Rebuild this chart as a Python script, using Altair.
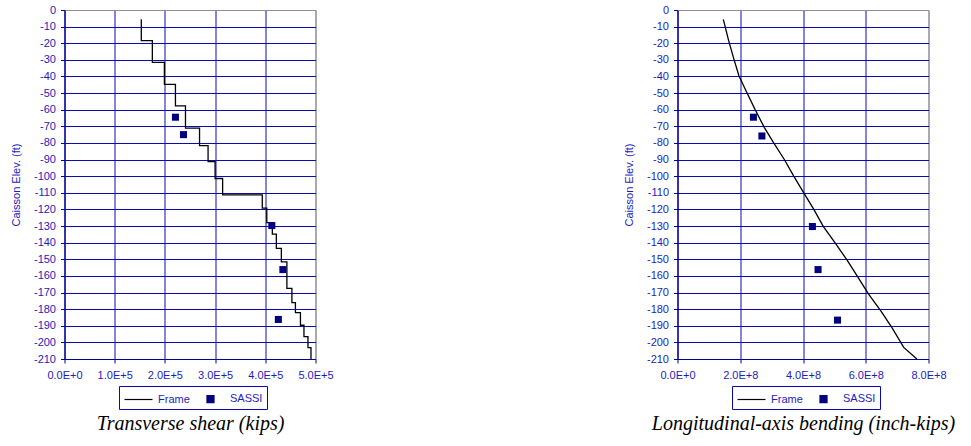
import altair as alt
import pandas as pd

# ---------------- data ----------------
SERIES = ["Frame", "SASSI"]

# Left panel: transverse shear (kips), Frame is a step profile
shear_elev = [-5.6, -18.4, -31.5, -44.7, -57.7, -71.1, -81.6, -91.2, -101.4,
              -111.2, -119.2, -128.0, -134.9, -143.4, -151.6, -167.5, -176.1,
              -182.1, -189.7, -196.5, -203.1, -210.0]
shear_frame = [1.53e5, 1.75e5, 1.99e5, 2.21e5, 2.41e5, 2.69e5, 2.86e5, 3.00e5,
               3.15e5, 3.94e5, 4.03e5, 4.14e5, 4.22e5, 4.32e5, 4.43e5, 4.53e5,
               4.60e5, 4.70e5, 4.77e5, 4.85e5, 4.91e5]
shear_sassi_elev = [-64.5, -75.0, -129.7, -156.2, -186.2]
shear_sassi = [2.21e5, 2.37e5, 4.13e5, 4.35e5, 4.26e5]

# Right panel: longitudinal-axis bending (inch-kips)
bend_elev = [-5.6, -18.4, -29.7, -39.7, -49.7, -59.8, -70.8, -79.8, -89.8,
             -99.8, -109.9, -119.8, -130.3, -140.3, -150.4, -160.4, -171.0,
             -181.0, -191.0, -203.0, -210.0]
bend_frame = [1.46e8, 1.63e8, 1.80e8, 1.96e8, 2.21e8, 2.47e8, 2.77e8, 3.06e8,
              3.40e8, 3.70e8, 4.02e8, 4.34e8, 4.65e8, 5.03e8, 5.40e8, 5.74e8,
              6.09e8, 6.48e8, 6.83e8, 7.21e8, 7.63e8]
bend_sassi_elev = [-64.5, -75.8, -130.3, -156.2, -186.6]
bend_sassi = [2.42e8, 2.69e8, 4.30e8, 4.48e8, 5.10e8]

elev_ticks = list(range(0, -211, -10))
shear_ticks = [0, 1e5, 2e5, 3e5, 4e5, 5e5]
bend_ticks = [0, 2e8, 4e8, 6e8, 8e8]

# ---------------- tables ----------------
step_rows = []
for i, v in enumerate(shear_frame):
    step_rows.append({"val": v, "elev": shear_elev[i], "series": "Frame"})
    step_rows.append({"val": v, "elev": shear_elev[i + 1], "series": "Frame"})
shear_frame_df = pd.DataFrame(step_rows)
shear_frame_df["idx"] = range(len(shear_frame_df))
shear_sassi_df = pd.DataFrame({"val": shear_sassi, "elev": shear_sassi_elev, "series": "SASSI"})

bend_frame_df = pd.DataFrame({"val": bend_frame, "elev": bend_elev, "series": "Frame"})
bend_frame_df["idx"] = range(len(bend_frame_df))
bend_sassi_df = pd.DataFrame({"val": bend_sassi, "elev": bend_sassi_elev, "series": "SASSI"})

# ---------------- styles ----------------
BLUE_TXT = "#1c1cbd"
BLUE_GRID = "#0a0ab4"
BLUE_AXIS = "#00009c"
GRAY = "#8c8c9c"
SANS = "Liberation Sans"
SERIF = "Liberation Serif"


def panel(frame_df, sassi_df, xmax, xticks, title):
    x = alt.X(
        "val:Q",
        scale=alt.Scale(domain=[0, xmax], nice=False, zero=False),
        axis=alt.Axis(
            values=xticks,
            labelExpr="replace(format(datum.value, '.1e'), 'e', 'E')",
            title=title,
            titleFont=SERIF, titleFontSize=20, titleFontStyle="italic",
            titleFontWeight="normal", titleColor="#000000", titlePadding=33,
            labelFont=SANS, labelFontSize=11, labelColor=BLUE_TXT,
            labelPadding=6, labelFlush=False, labelOverlap=False,
            tickSize=4, tickColor=BLUE_AXIS, domainColor=BLUE_AXIS,
            grid=True,
            gridColor={"condition": {"test": f"datum.value >= {xmax}", "value": GRAY},
                       "value": BLUE_GRID},
        ),
    )
    y = alt.Y(
        "elev:Q",
        scale=alt.Scale(domain=[-210, 0], nice=False, zero=False),
        axis=alt.Axis(
            values=elev_ticks,
            labelExpr="'' + datum.value",
            title="Caisson Elev. (ft)",
            titleFont=SANS, titleFontSize=11, titleFontWeight="normal",
            titleColor=BLUE_TXT, titlePadding=12,
            labelFont=SANS, labelFontSize=11, labelColor=BLUE_TXT,
            labelPadding=5, labelFlush=False, labelOverlap=False,
            tickSize=4, tickColor=BLUE_AXIS, domainColor=BLUE_AXIS,
            grid=True,
            gridColor={"condition": {"test": "datum.value >= 0", "value": GRAY},
                       "value": BLUE_GRID},
        ),
    )
    leg = alt.Legend(
        title=None, orient="none", legendX=54.5, legendY=376,
        direction="horizontal", strokeColor=BLUE_GRID, padding=4,
        symbolSize=256, symbolOffset=6.5, labelOffset=10.5, columnPadding=5,
        labelFont=SANS, labelFontSize=11, labelColor=BLUE_TXT,
        symbolStrokeWidth=1.2,
    )
    color = alt.Color("series:N",
                      scale=alt.Scale(domain=SERIES, range=["#000000", "#000080"]),
                      legend=leg)
    shape = alt.Shape("series:N",
                      scale=alt.Scale(domain=SERIES,
                                      range=["M-1.75,0H1.75",
                                             "M-0.44,-0.44H0.44V0.44H-0.44Z"]),
                      legend=leg)
    line = alt.Chart(frame_df).mark_line(strokeWidth=1.3).encode(
        x=x, y=y, color=color, order="idx:Q")
    pts = alt.Chart(sassi_df).mark_point(filled=True, opacity=1, size=256).encode(
        x=x, y=y, color=color, shape=shape)
    return alt.layer(line, pts).properties(width=251, height=349)


left = panel(shear_frame_df, shear_sassi_df, 5e5, shear_ticks, "Transverse shear (kips)")
right = panel(bend_frame_df, bend_sassi_df, 8e8, bend_ticks,
              "Longitudinal-axis bending (inch-kips)")

chart = (
    alt.hconcat(left, right, spacing=288)
    .resolve_scale(color="independent", shape="independent")
    .properties(padding={"left": 9.5, "top": 3, "right": 5, "bottom": 5},
                background="#ffffff")
    .configure_view(stroke=GRAY, strokeWidth=1)
)

chart.save("out.html", embed_options={"renderer": "svg", "actions": False})
